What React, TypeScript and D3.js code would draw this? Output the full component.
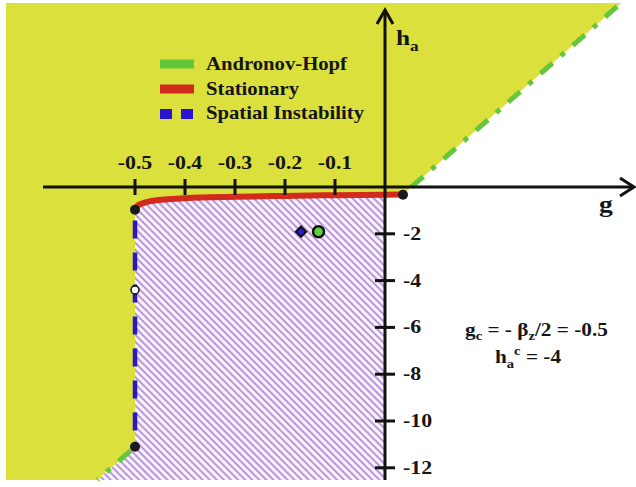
import React from "react";
import * as d3 from "d3";

// ---- data ----
const xTicks = [-0.5, -0.4, -0.3, -0.2, -0.1];
const xTickLabels = ["-0.5", "-0.4", "-0.3", "-0.2", "-0.1"];
const yTicks = [-2, -4, -6, -8, -10, -12];
const yTickLabels = ["-2", "-4", "-6", "-8", "-10", "-12"];

// Stationary boundary (g, h_a)
const stationaryG = [-0.5, -0.495, -0.485, -0.47, -0.44, -0.4, -0.3, -0.2, -0.1, 0, 0.036];
const stationaryH = [-0.97, -0.8, -0.7, -0.61, -0.53, -0.48, -0.42, -0.38, -0.35, -0.33, -0.32];

// Andronov-Hopf boundary segments
const hopfUpperG = [0.036, 0.472];
const hopfUpperH = [-0.32, 7.86];
const hopfLowerG = [-0.5, -0.575];
const hopfLowerH = [-11.1, -12.52];

// Spatial instability boundary
const spatialG = [-0.5, -0.5];
const spatialH = [-1.05, -11.1];

// Region extents
const gLeft = -0.758;
const hTop = 7.86;
const hBottom = -12.52;

// Special points
const blackDots = [
  { g: -0.5, h: -0.97 },
  { g: 0.036, h: -0.33 },
  { g: -0.5, h: -11.1 },
];
const hollowDot = { g: -0.5, h: -4.4 };
const diamondPt = { g: -0.168, h: -1.91 };
const greenPt = { g: -0.133, h: -1.91 };

const legendLabels = ["Andronov-Hopf", "Stationary", "Spatial Instability"];
const legendColors = ["#62c73a", "#d22a1c", "#2a14d2"];

// ---- styles ----
const YELLOW = "#dbe03c";
const FONT = "'Liberation Serif', 'Times New Roman', serif";

const ST = ({ x, y, size, anchor = "start", children }: any) => (
  <text
    transform={`translate(${x},${y}) scale(1.15,1)`}
    fontFamily={FONT}
    fontWeight="bold"
    fontSize={size}
    textAnchor={anchor}
    fill="#151515"
  >
    {children}
  </text>
);

export default function App() {
  const x = d3.scaleLinear().domain([-0.5, 0]).range([135, 385]);
  const y = d3.scaleLinear().domain([0, -12]).range([187, 467.8]);

  const stPts: [number, number][] = stationaryG.map((g, i) => [g, stationaryH[i]]);
  const line = d3
    .line<[number, number]>()
    .x((d) => x(d[0]))
    .y((d) => y(d[1]));
  const curveLine = d3
    .line<[number, number]>()
    .x((d) => x(d[0]))
    .y((d) => y(d[1]))
    .curve(d3.curveMonotoneX);

  const stationaryPath = curveLine(stPts) as string;
  const stRevPath = curveLine([...stPts].reverse()) as string;

  // yellow region
  const yellowPath =
    line([
      [gLeft, hTop],
      [hopfUpperG[1], hopfUpperH[1]],
      [hopfUpperG[0], hopfUpperH[0]],
    ]) +
    "L" +
    stRevPath.slice(1) +
    "L" +
    x(spatialG[1]) +
    "," +
    y(spatialH[1]) +
    "L" +
    x(hopfLowerG[1]) +
    "," +
    y(hopfLowerH[1]) +
    "L" +
    x(gLeft) +
    "," +
    y(hBottom) +
    "Z";

  // hatched region
  const stToZero = stPts.filter((d) => d[0] <= 0);
  const hatchPath =
    (curveLine(stToZero) as string) +
    "L" +
    x(0) +
    "," +
    y(hBottom) +
    "L" +
    x(hopfLowerG[1]) +
    "," +
    y(hopfLowerH[1]) +
    "L" +
    x(hopfLowerG[0]) +
    "," +
    y(hopfLowerH[0]) +
    "Z";

  const x0 = x(0);
  const y0 = y(0);

  return (
    <svg
      width={636}
      height={487}
      style={{ position: "absolute", left: 0, top: 0, background: "#fff" }}
    >
      <defs>
        <pattern
          id="hatch"
          width={5}
          height={5}
          patternUnits="userSpaceOnUse"
          patternTransform="rotate(45)"
        >
          <rect width={5} height={5} fill="#f8f4fc" />
          <rect width={5} height={2} fill="#bb95de" />
        </pattern>
      </defs>

      <path d={yellowPath} fill={YELLOW} />
      <path d={hatchPath} fill="url(#hatch)" />

      {/* Andronov-Hopf lines */}
      <path
        d={line(hopfUpperG.map((g, i) => [g, hopfUpperH[i]]) as any) as string}
        stroke={legendColors[0]}
        strokeWidth={5}
        fill="none"
        strokeDasharray="16 11 5 11"
        strokeDashoffset={-11}
      />
      <path
        d={line(hopfLowerG.map((g, i) => [g, hopfLowerH[i]]) as any) as string}
        stroke={legendColors[0]}
        strokeWidth={5}
        fill="none"
        strokeDasharray="16 11 5 11"
        strokeDashoffset={-6}
      />

      {/* Spatial instability */}
      <path
        d={line(spatialG.map((g, i) => [g, spatialH[i]]) as any) as string}
        stroke={legendColors[2]}
        strokeWidth={4.5}
        fill="none"
        strokeDasharray="18 14"
        strokeDashoffset={23}
      />

      {/* Stationary */}
      <path
        d={stationaryPath}
        stroke={legendColors[1]}
        strokeWidth={6}
        fill="none"
        strokeLinecap="round"
      />

      {/* Axes */}
      <line x1={43} y1={y0} x2={634} y2={y0} stroke="#111" strokeWidth={3} />
      <polyline
        points={`${620},${y0 - 9} ${634},${y0} ${620},${y0 + 9}`}
        stroke="#111"
        strokeWidth={3}
        fill="none"
      />
      <line x1={x0} y1={y(hBottom)} x2={x0} y2={10} stroke="#111" strokeWidth={3} />
      <polyline
        points={`${x0 - 8},${24} ${x0},${10} ${x0 + 8},${24}`}
        stroke="#111"
        strokeWidth={3}
        fill="none"
      />

      {xTicks.map((t, i) => (
        <g key={"xt" + i}>
          <line x1={x(t)} x2={x(t)} y1={y0 - 8} y2={y0 + 8} stroke="#111" strokeWidth={3} />
          <ST x={x(t)} y={169} size={19} anchor="middle">
            {xTickLabels[i]}
          </ST>
        </g>
      ))}
      {yTicks.map((t, i) => (
        <g key={"yt" + i}>
          <line x1={x0 - 10} x2={x0 + 10} y1={y(t)} y2={y(t)} stroke="#111" strokeWidth={3} />
          <ST x={403} y={y(t) + 6} size={19}>
            {yTickLabels[i]}
          </ST>
        </g>
      ))}

      {/* axis labels */}
      <ST x={599} y={212} size={24}>
        g
      </ST>
      <text
        transform={`translate(396,45) scale(1.15,1)`}
        fontFamily={FONT}
        fontWeight="bold"
        fontSize={22}
        fill="#151515"
      >
        h
        <tspan fontSize={15} dy={6}>
          a
        </tspan>
      </text>

      {/* points */}
      {blackDots.map((p, i) => (
        <circle key={"bd" + i} cx={x(p.g)} cy={y(p.h)} r={5} fill="#1a1a1a" />
      ))}
      <circle cx={x(hollowDot.g)} cy={y(hollowDot.h)} r={4} fill="#fff" stroke="#111" strokeWidth={1.5} />
      <path
        d={d3.symbol().type(d3.symbolDiamond2).size(70)() as string}
        transform={`translate(${x(diamondPt.g)},${y(diamondPt.h)})`}
        fill="#2a1ad6"
        stroke="#111"
        strokeWidth={2}
      />
      <circle cx={x(greenPt.g)} cy={y(greenPt.h)} r={5.5} fill="#62d03a" stroke="#111" strokeWidth={2.5} />

      {/* legend */}
      <rect x={160} y={59.5} width={34} height={9} fill={legendColors[0]} />
      <rect x={160} y={84.5} width={34} height={9} fill={legendColors[1]} />
      <rect x={160} y={109} width={12} height={10} fill={legendColors[2]} />
      <rect x={181} y={109} width={12} height={10} fill={legendColors[2]} />
      {legendLabels.map((l, i) => (
        <ST key={"lg" + i} x={206} y={70 + i * 24.5} size={18}>
          {l}
        </ST>
      ))}

      {/* annotation */}
      <text
        transform={`translate(465,336) scale(1.12,1)`}
        fontFamily={FONT}
        fontWeight="bold"
        fontSize={19}
        fill="#151515"
      >
        g
        <tspan fontSize={13} dy={4}>
          c
        </tspan>
        <tspan dy={-4}> = - β</tspan>
        <tspan fontSize={13} dy={4}>
          z
        </tspan>
        <tspan dy={-4}>/2 = -0.5</tspan>
      </text>
      <text
        transform={`translate(495,363) scale(1.12,1)`}
        fontFamily={FONT}
        fontWeight="bold"
        fontSize={19}
        fill="#151515"
      >
        h
        <tspan fontSize={13} dy={5}>
          a
        </tspan>
        <tspan fontSize={13} dy={-13}>
          c
        </tspan>
        <tspan dy={8}> = -4</tspan>
      </text>
    </svg>
  );
}
